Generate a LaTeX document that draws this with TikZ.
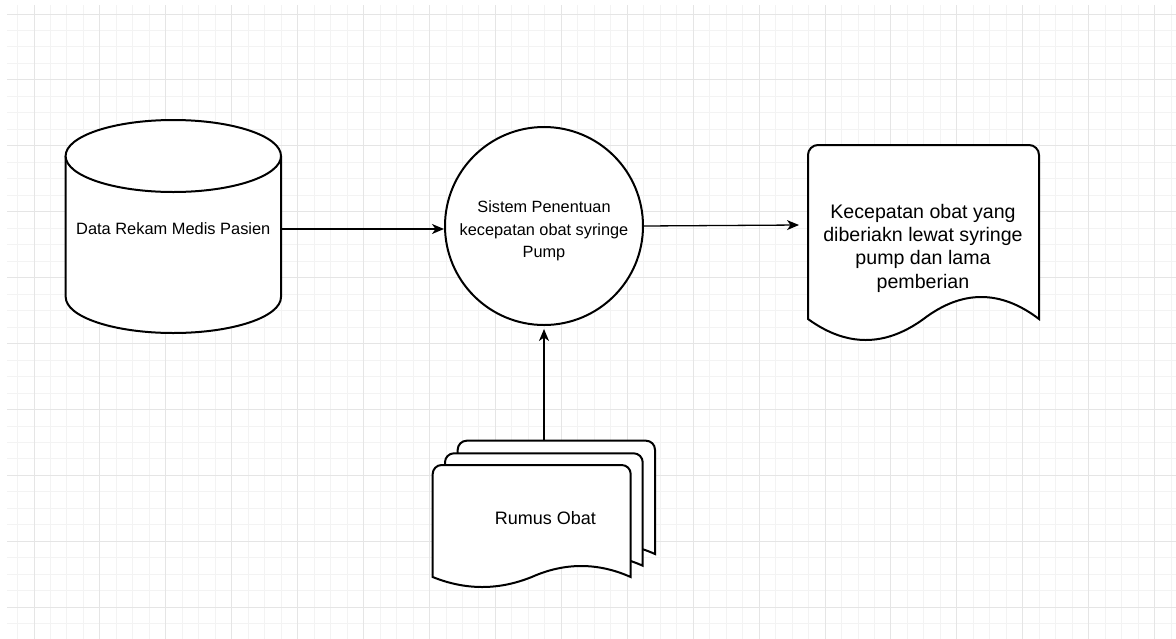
\documentclass[tikz,border=0pt]{standalone}
\usepackage{fontspec}
\setmainfont{Liberation Sans}
\usetikzlibrary{arrows.meta}
\definecolor{gridmajor}{RGB}{229,229,229}
\definecolor{gridminor}{RGB}{243,243,243}
\tikzset{
  shapeline/.style={draw=black, line width=2pt, fill=white},
  conn/.style={line width=1.3pt, -{Stealth[length=12pt,width=10pt,inset=3.5pt]}},
  lbl/.style={inner sep=0pt, align=center, text=black},
}
\newcommand\docpath[7]{% #1 x0, #2 x1, #3 top, #4 end y, #5 peak, #6 trough, #7 radius
  \pgfmathsetmacro\dw{#2-#1}
  \pgfmathsetmacro\dxm{(#1+#2)/2}
  \pgfmathsetmacro\rk{0.45*#7}
  \draw[shapeline] (#1,#4) -- (#1,#3+#7)
    .. controls (#1,#3+\rk) and (#1+\rk,#3) .. (#1+#7,#3)
    -- (#2-#7,#3)
    .. controls (#2-\rk,#3) and (#2,#3+\rk) .. (#2,#3+#7)
    -- (#2,#4)
    .. controls ({#2-\dw/6},{#4-4*#5/3}) and ({\dxm+\dw/6},{#4-4*#5/3}) .. (\dxm,#4)
    .. controls ({\dxm-\dw/6},{#4+4*#6/3}) and ({#1+\dw/6},{#4+4*#6/3}) .. (#1,#4)
    -- cycle;
}
\begin{document}
\begin{tikzpicture}[x=1pt,y=-1pt]
\useasboundingbox (0,0) rectangle (1176,638);
\fill[white] (0,0) rectangle (1176,638);
% grid
\begin{scope}
  \clip (7,5) rectangle (1176,638);
  \foreach \k in {-2,...,70} \draw[gridminor, line width=1pt] ({34+16.48*\k},0) -- ++(0,640);
  \foreach \k in {-1,...,38} \draw[gridminor, line width=1pt] (0,{14+16.48*\k}) -- ++(1180,0);
  \foreach \k in {0,...,17} \draw[gridmajor, line width=1pt] ({34+65.92*\k},0) -- ++(0,640);
  \foreach \k in {0,...,9} \draw[gridmajor, line width=1pt] (0,{14+65.92*\k}) -- ++(1180,0);
\end{scope}

% cylinder (data store)
\draw[shapeline] (65.7,156) -- (65.7,297)
  .. controls (65.7,316.9) and (113.9,333) .. (173.3,333)
  .. controls (232.8,333) and (281,316.9) .. (281,297)
  -- (281,156);
\draw[shapeline] (173.3,156) ellipse [x radius=107.7, y radius=36];
\node[lbl, minimum width=215.3pt, font=\fontsize{16.4}{20}\selectfont] (db) at (173.3,229) {Data Rekam Medis Pasien};

% process circle
\node[circle, shapeline, minimum size=198pt, inner sep=0pt] (proc) at (544,226) {};
\node[lbl, font=\fontsize{16.3}{22.5}\selectfont] (proctext) at (544,231)
  {Sistem Penentuan\\kecepatan obat syringe\\Pump};

% output document
\docpath{808}{1039}{145}{319}{22}{21}{10}
\node[lbl, font=\fontsize{19.6}{23.3}\selectfont] (outdoc) at (923,248)
  {Kecepatan obat yang\\diberiakn lewat syringe\\pump dan lama\\pemberian};
\coordinate (docin) at (799,225);

% multi document
\docpath{457.7}{655}{440.7}{554}{11}{10}{9}
\docpath{445}{642.7}{453.3}{565.7}{11}{10}{9}
\docpath{432.7}{630.7}{465}{577}{11}{10}{9}
\node[lbl, font=\fontsize{18}{22}\selectfont] (rumus) at (545.5,518) {Rumus Obat};
\coordinate (rtop) at (544,440.7);

% connectors
\draw[conn] (db.east -| 281,0) -- (db.east -| proc.west);
\draw[conn] (proc.east) -- (docin);
\draw[conn, shorten >=3pt] (rtop) -- (proc.south);
\end{tikzpicture}
\end{document}
